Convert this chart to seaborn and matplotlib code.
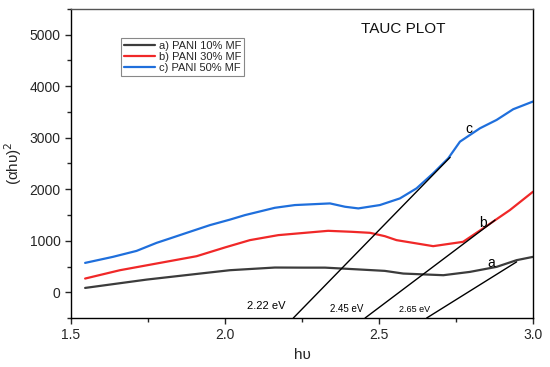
import matplotlib
matplotlib.use("Agg")
import matplotlib.pyplot as plt
import seaborn as sns
import pandas as pd
from matplotlib.ticker import MultipleLocator

# ---- data ----
x_a = [1.546, 1.746, 1.919, 2.016, 2.162, 2.254, 2.325, 2.428, 2.519, 2.579, 2.709, 2.795, 2.882, 2.947, 3.0]
y_a = [84, 246, 363, 428, 480, 478, 478, 445, 415, 363, 331, 395, 493, 623, 687]

x_b = [1.546, 1.659, 1.778, 1.908, 2.0, 2.081, 2.173, 2.335, 2.411, 2.471, 2.519, 2.557, 2.676, 2.773, 2.838, 2.925, 3.0]
y_b = [266, 428, 558, 700, 870, 1012, 1109, 1193, 1174, 1154, 1089, 1012, 895, 979, 1239, 1595, 1951]

x_c = [1.546, 1.636, 1.713, 1.778, 1.821, 1.886, 1.951, 2.016, 2.065, 2.162, 2.227, 2.341, 2.390, 2.433, 2.503,
       2.568, 2.622, 2.676, 2.725, 2.763, 2.828, 2.882, 2.936, 3.0]
y_c = [570, 687, 803, 959, 1044, 1174, 1303, 1410, 1498, 1640, 1693, 1725, 1660, 1628, 1693,
       1822, 2017, 2309, 2601, 2924, 3184, 3346, 3554, 3703]

series_names = ["a) PANI 10% MF", "b) PANI 30% MF", "c) PANI 50% MF"]
series_colors = ["#3c3c3c", "#f02828", "#1f6fdc"]

# tangent lines (start at bottom of axis, end on curve)
tan_x0 = [2.655, 2.455, 2.222]
tan_y0 = [-500, -500, -500]
tan_x1 = [2.947, 2.877, 2.731]
tan_y1 = [590, 1401, 2620]

gap_labels = ["2.65 eV", "2.45 eV", "2.22 eV"]
gap_label_x = [2.617, 2.395, 2.135]
gap_label_y = [-330, -330, -272]

curve_letters = ["a", "b", "c"]
letter_x = [2.864, 2.839, 2.793]
letter_y = [560, 1336, 3165]

# ---- build figure ----
sns.set_style("ticks")
plt.rcParams['font.family'] = ['Liberation Sans', 'DejaVu Sans']

fig = plt.figure(figsize=(5.5, 3.67), dpi=100)
ax = fig.add_axes([0.129, 0.1335, 0.84, 0.842])

frames = []
for xs, ys, name in zip([x_a, x_b, x_c], [y_a, y_b, y_c], series_names):
    frames.append(pd.DataFrame({"x": xs, "y": ys, "series": name}))
df = pd.concat(frames, ignore_index=True)

sns.lineplot(data=df, x="x", y="y", hue="series", hue_order=series_names,
             palette=series_colors, linewidth=1.6, ax=ax, sort=True, estimator=None)

for x0, y0, x1, y1 in zip(tan_x0, tan_y0, tan_x1, tan_y1):
    ax.plot([x0, x1], [y0, y1], color="black", linewidth=1.0, zorder=3)

sizes = [6.5, 7, 8]
for t, xx, yy, s in zip(gap_labels, gap_label_x, gap_label_y, sizes):
    ax.text(xx, yy, t, ha="center", va="center", fontsize=s, color="black")

for t, xx, yy in zip(curve_letters, letter_x, letter_y):
    ax.text(xx, yy, t, ha="center", va="center", fontsize=10, color="black")

ax.text(2.578, 5117, "TAUC PLOT", ha="center", va="center", fontsize=11, color="#111111")

ax.set_xlim(1.5, 3.0)
ax.set_ylim(-500, 5500)
ax.xaxis.set_major_locator(MultipleLocator(0.5))
ax.xaxis.set_minor_locator(MultipleLocator(0.25))
ax.yaxis.set_major_locator(MultipleLocator(1000))
ax.yaxis.set_minor_locator(MultipleLocator(500))
ax.set_xticks([1.5, 2.0, 2.5, 3.0])
ax.set_xticklabels(["1.5", "2.0", "2.5", "3.0"])
ax.set_yticks([0, 1000, 2000, 3000, 4000, 5000])
ax.tick_params(axis="both", which="major", length=4, width=1, labelsize=10, direction="out")
ax.tick_params(axis="both", which="minor", length=3, width=1, direction="out")

for sp in ax.spines.values():
    sp.set_visible(True)
    sp.set_linewidth(1.0)
    sp.set_color("black")
ax.spines["top"].set_color("#555555")

ax.set_xlabel("hυ", fontsize=11, labelpad=4)
ax.set_ylabel("(αhυ)$^2$", fontsize=11, labelpad=4)

leg = ax.legend(loc="upper left", bbox_to_anchor=(0.097, 0.925), frameon=True, fancybox=False,
                fontsize=8, handlelength=2.8, handletextpad=0.3, borderpad=0.25,
                labelspacing=0.12, edgecolor="#888888", framealpha=1)
leg.get_frame().set_linewidth(0.8)
leg.set_title(None)

fig.savefig("out.png", dpi=100)
